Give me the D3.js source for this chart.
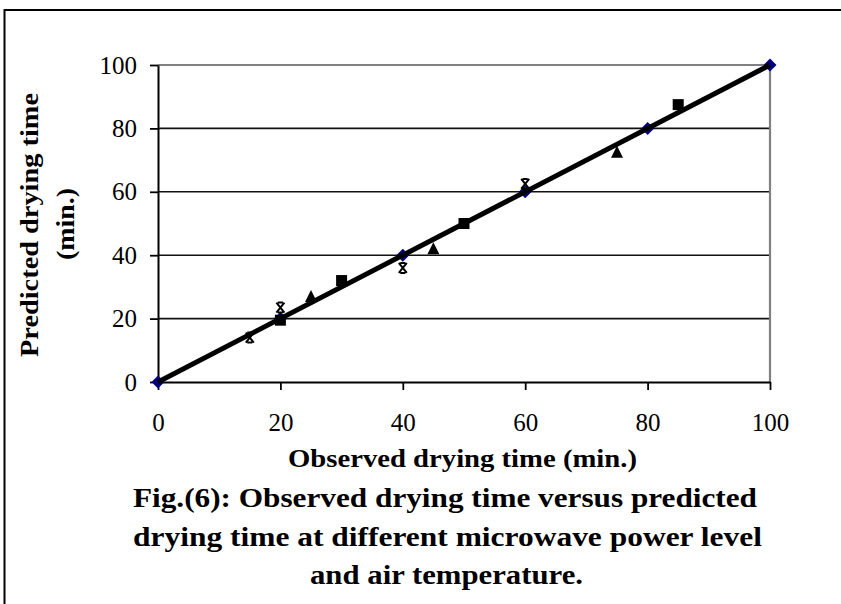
<!DOCTYPE html>
<html><head><meta charset="utf-8">
<script src="https://cdn.jsdelivr.net/npm/d3@7"></script>
<style>body{margin:0;background:#fff}</style>
</head><body>
<svg id="c" width="841" height="604"></svg>
<script>
const xTicks = [0, 20, 40, 60, 80, 100];
const yTicks = [0, 20, 40, 60, 80, 100];
const diamondX = [0, 20, 40, 60, 80, 100];
const diamondY = [0, 20, 40, 60, 80, 100];
const squareX = [20, 30, 50, 85];
const squareY = [19.5, 32, 50, 87.5];
const triangleX = [25, 45, 75];
const triangleY = [27, 42, 72.5];
const starX = [15, 20, 40, 60];
const starY = [14, 23.5, 36, 62.5];
const fitX = [0, 100];
const fitY = [0, 100];
const xTitle = "Observed drying time (min.)";
const yTitle = ["Predicted drying time", "(min.)"];
const caption = ["Fig.(6): Observed drying time versus predicted",
                 "drying time at different microwave power level",
                 "and air temperature."];

const svg = d3.select("#c");
const serif = "'Liberation Serif','Times New Roman',serif";
const x = d3.scaleLinear([0, 100], [158, 770]);
const y = d3.scaleLinear([0, 100], [382, 65]);
const pts = (xs, ys) => xs.map((v, i) => [v, ys[i]]);

// outer frame
svg.append("rect").attr("x", 4.5).attr("y", 10).attr("width", 900).attr("height", 700)
  .attr("fill", "none").attr("stroke", "#000").attr("stroke-width", 2);

// gridlines
svg.append("g").selectAll("line").data(yTicks.filter(d => d > 0 && d < 100)).join("line")
  .attr("x1", x(0)).attr("x2", x(100)).attr("y1", d => y(d)).attr("y2", d => y(d))
  .attr("stroke", "#111").attr("stroke-width", 1.6);
// top gridline and right border (grey)
svg.append("line").attr("x1", x(0)).attr("x2", x(100)).attr("y1", y(100)).attr("y2", y(100))
  .attr("stroke", "#808080").attr("stroke-width", 2.2);
svg.append("line").attr("x1", x(100)).attr("x2", x(100)).attr("y1", y(100)).attr("y2", y(0))
  .attr("stroke", "#808080").attr("stroke-width", 2.2);

// axes
const yAxis = svg.append("g").attr("transform", `translate(${x(0)},0)`)
  .call(d3.axisLeft(y).tickValues(yTicks).tickSize(8).tickSizeOuter(0).tickPadding(13));
const xAxis = svg.append("g").attr("transform", `translate(0,${y(0)})`)
  .call(d3.axisBottom(x).tickValues(xTicks).tickSize(8).tickSizeOuter(0).tickPadding(23));
[yAxis, xAxis].forEach(a => {
  a.select(".domain").attr("stroke", "#000").attr("stroke-width", 2);
  a.selectAll(".tick line").attr("stroke", "#000").attr("stroke-width", 1.8);
  a.selectAll(".tick text").attr("font-family", serif).attr("font-size", 25).attr("fill", "#000");
});

// diamonds (navy)
svg.append("g").selectAll("path").data(pts(diamondX, diamondY)).join("path")
  .attr("transform", d => `translate(${x(d[0])},${y(d[1])})`)
  .attr("d", "M0,-6.5L6.5,0L0,6.5L-6.5,0Z").attr("fill", "#000080");

// 1:1 line
svg.append("path").datum(pts(fitX, fitY))
  .attr("d", d3.line().x(d => x(d[0])).y(d => y(d[1])))
  .attr("stroke", "#000").attr("stroke-width", 5).attr("fill", "none");

// squares
svg.append("g").selectAll("rect").data(pts(squareX, squareY)).join("rect")
  .attr("x", d => x(d[0]) - 5.5).attr("y", d => y(d[1]) - 5.5)
  .attr("width", 11).attr("height", 11).attr("fill", "#000");

// triangles
svg.append("g").selectAll("path").data(pts(triangleX, triangleY)).join("path")
  .attr("transform", d => `translate(${x(d[0])},${y(d[1])})`)
  .attr("d", "M0,-6.5L6,5.5L-6,5.5Z").attr("fill", "#000");

// stars
svg.append("g").selectAll("path").data(pts(starX, starY)).join("path")
  .attr("transform", d => `translate(${x(d[0])},${y(d[1])})`)
  .attr("d", "M-4,-5L4,5M-4,5L4,-5M-2.5,-5L2.5,-5M-2.5,5L2.5,5")
  .attr("stroke", "#000").attr("stroke-width", 2).attr("fill", "none");

// axis titles
svg.append("text").attr("x", 288).attr("y", 467).text(xTitle)
  .attr("font-family", serif).attr("font-weight", "bold").attr("font-size", 26)
  .attr("textLength", 349).attr("lengthAdjust", "spacingAndGlyphs");
svg.append("text").attr("transform", "translate(38,225) rotate(-90)")
  .attr("text-anchor", "middle").text(yTitle[0])
  .attr("font-family", serif).attr("font-weight", "bold").attr("font-size", 26)
  .attr("textLength", 264).attr("lengthAdjust", "spacingAndGlyphs");
svg.append("text").attr("transform", "translate(74,224) rotate(-90)")
  .attr("text-anchor", "middle").text(yTitle[1])
  .attr("font-family", serif).attr("font-weight", "bold").attr("font-size", 26)
  .attr("textLength", 72).attr("lengthAdjust", "spacingAndGlyphs");

// caption
const capPos = [[133, 507, 624], [133, 545.5, 629], [310, 584, 273]];
caption.forEach((t, i) => {
  svg.append("text").attr("x", capPos[i][0]).attr("y", capPos[i][1]).text(t)
    .attr("font-family", serif).attr("font-weight", "bold").attr("font-size", 27)
    .attr("textLength", capPos[i][2]).attr("lengthAdjust", "spacingAndGlyphs");
});
</script>
</body></html>
